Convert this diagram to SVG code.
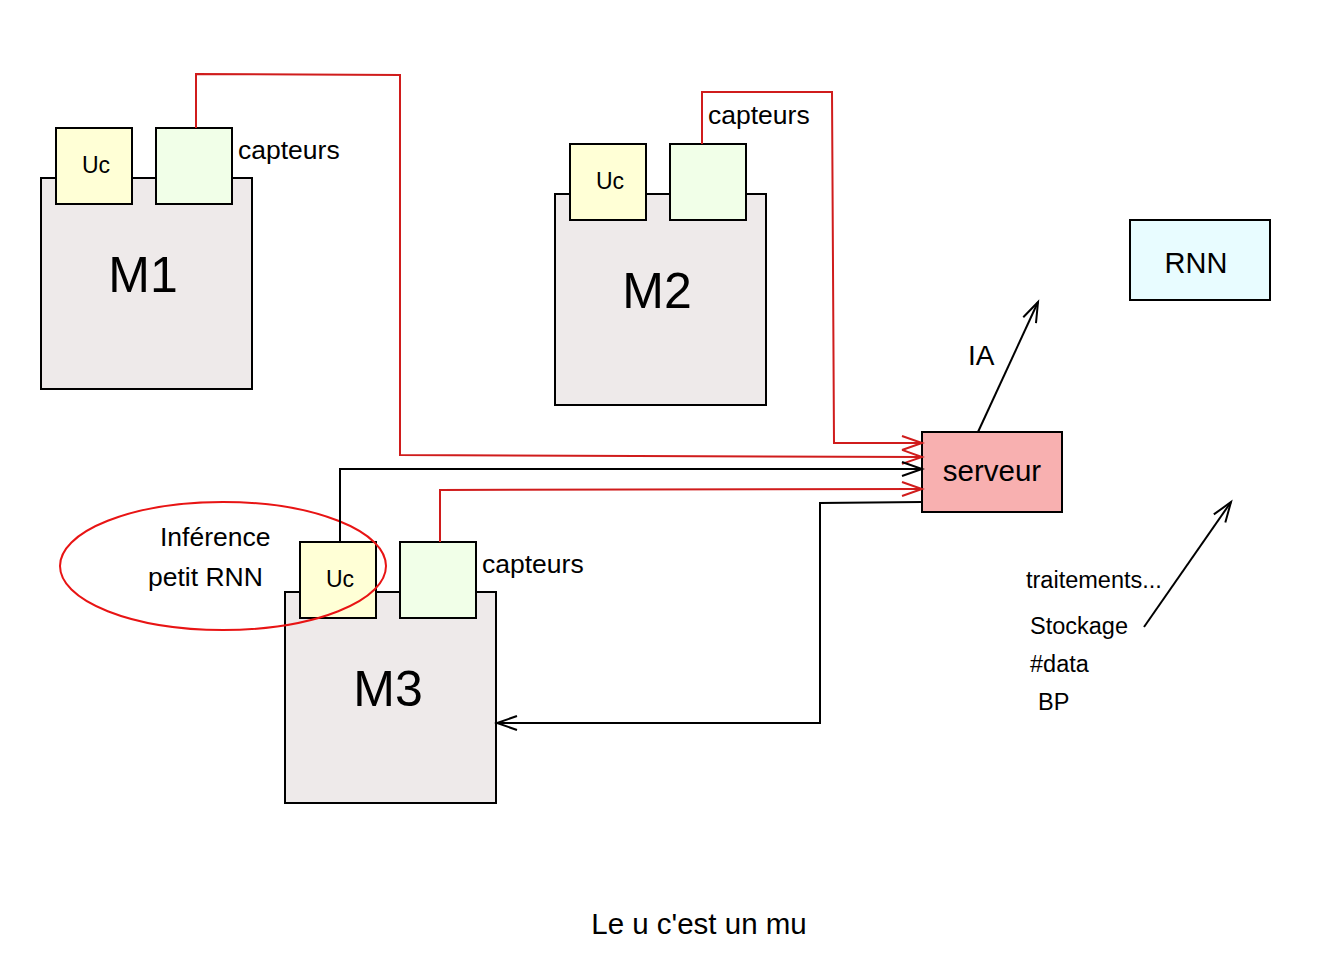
<svg xmlns="http://www.w3.org/2000/svg" width="1323" height="980" viewBox="0 0 1323 980">
<style>
text{font-family:"Liberation Sans",Arial,sans-serif;fill:#000}
.m{fill:#eeeaea;stroke:#000;stroke-width:2}
.uc{fill:#ffffd6;stroke:#000;stroke-width:2}
.cap{fill:#f1ffe8;stroke:#000;stroke-width:2}
.red{fill:none;stroke:#d01c1c;stroke-width:2}
.blk{fill:none;stroke:#000;stroke-width:2}
</style>
<defs>
<marker id="ar" markerUnits="userSpaceOnUse" markerWidth="26" markerHeight="20" viewBox="-23 -10 26 20" refX="0" refY="0" orient="auto"><path d="M-20,-7 L0,0 L-20,7" fill="none" stroke="#d01c1c" stroke-width="2"/></marker>
<marker id="ab" markerUnits="userSpaceOnUse" markerWidth="26" markerHeight="20" viewBox="-23 -10 26 20" refX="0" refY="0" orient="auto"><path d="M-20,-7 L0,0 L-20,7" fill="none" stroke="#000" stroke-width="2"/></marker>
</defs>
<rect width="1323" height="980" fill="#fff"/>
<g id="M1">
<rect class="m" x="41" y="178" width="211" height="211"/>
<text x="143" y="292" font-size="50" text-anchor="middle">M1</text>
</g>
<g id="M1-Uc"><rect class="uc" x="56" y="128" width="76" height="76"/><text x="96" y="173" font-size="23" text-anchor="middle">Uc</text></g>
<g id="M1-capteurs"><rect class="cap" x="156" y="128" width="76" height="76"/><text x="238" y="159" font-size="26.5">capteurs</text></g>
<g id="M2">
<rect class="m" x="555" y="194" width="211" height="211"/>
<text x="657" y="308" font-size="50" text-anchor="middle">M2</text>
</g>
<g id="M2-Uc"><rect class="uc" x="570" y="144" width="76" height="76"/><text x="610" y="189" font-size="23" text-anchor="middle">Uc</text></g>
<g id="M2-capteurs"><rect class="cap" x="670" y="144" width="76" height="76"/><text x="708" y="124" font-size="26.5">capteurs</text></g>
<g id="M3">
<rect class="m" x="285" y="592" width="211" height="211"/>
<text x="388" y="706" font-size="50" text-anchor="middle">M3</text>
</g>
<g id="M3-Uc"><rect class="uc" x="300" y="542" width="76" height="76"/><text x="340" y="587" font-size="23" text-anchor="middle">Uc</text></g>
<g id="M3-capteurs"><rect class="cap" x="400" y="542" width="76" height="76"/><text x="482" y="573" font-size="26.5">capteurs</text></g>
<g id="serveur">
<rect x="922" y="432" width="140" height="80" fill="#f8b0b0" stroke="#000" stroke-width="2"/>
<text x="992" y="481" font-size="29.5" text-anchor="middle">serveur</text>
</g>
<g id="RNN">
<rect x="1130" y="220" width="140" height="80" fill="#e8fcff" stroke="#000" stroke-width="2"/>
<text x="1196" y="273" font-size="29" text-anchor="middle">RNN</text>
</g>
<g id="inference">
<ellipse cx="223" cy="566" rx="163" ry="64" fill="none" stroke="#e81414" stroke-width="2"/>
<text x="160" y="546" font-size="26.5">Inférence</text>
<text x="148" y="586" font-size="26.5">petit RNN</text>
</g>
<g id="connectors">
<path class="red" d="M196,128 L196,74 L400,75 L400,455 L922,457" marker-end="url(#ar)"/>
<path class="red" d="M702,144 L702,92 L832,92 L834,443 L922,443" marker-end="url(#ar)"/>
<path class="blk" d="M340,542 L340,469 L922,469" marker-end="url(#ab)"/>
<path class="red" d="M440,542 L440,490 L922,489" marker-end="url(#ar)"/>
<path class="blk" d="M922,502 L820,503 L820,723 L497,723" marker-end="url(#ab)"/>
<path class="blk" d="M978,432 L1038,302" marker-end="url(#ab)"/>
<path class="blk" d="M1144,627 L1231,502" marker-end="url(#ab)"/>
</g>
<g id="labels">
<text x="968" y="365" font-size="28">IA</text>
<text x="1026" y="588" font-size="23.5">traitements...</text>
<text x="1030" y="634" font-size="23.5">Stockage</text>
<text x="1030" y="672" font-size="23.5">#data</text>
<text x="1038" y="710" font-size="23.5">BP</text>
<text x="699" y="934" font-size="29.5" text-anchor="middle">Le u c'est un mu</text>
</g>
</svg>
